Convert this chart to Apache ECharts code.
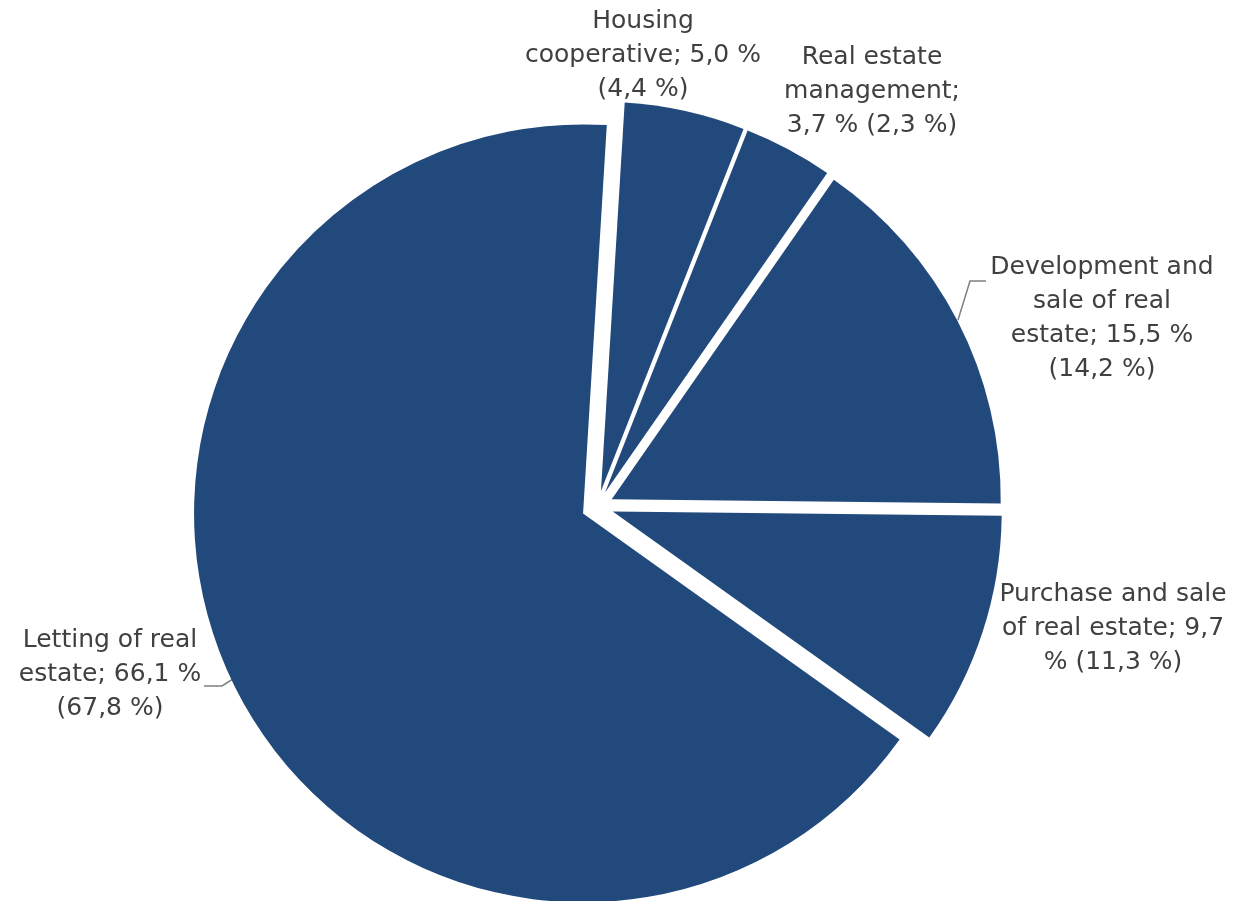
<!DOCTYPE html>
<html>
<head>
<meta charset="utf-8">
<script src="https://cdn.jsdelivr.net/npm/echarts@6/dist/echarts.min.js"></script>
<style>
html,body{margin:0;padding:0;background:#fff;}
#chart{width:1251px;height:901px;}
</style>
</head>
<body>
<div id="chart"></div>
<script>
// ---- Data ----
const categories = ['Housing cooperative', 'Real estate management', 'Development and sale of real estate', 'Purchase and sale of real estate', 'Letting of real estate'];
const shares = [5.0, 3.7, 15.5, 9.7, 66.1];
const previousShares = [4.4, 2.3, 14.2, 11.3, 67.8];

// ---- Label layout (positions / wrapping only) ----
const wrapChars = [18, 13, 15, 19, 15];
const labelPos = [
  {x: 643, y: 55},
  {x: 872, y: 91},
  {x: 1102, y: 318},
  {x: 1113, y: 628},
  {x: 110, y: 674}
];
const leaderLines = {
  2: [[958, 320], [970, 281], [986, 281]],
  4: [[233, 679], [222, 686], [204, 686]]
};

function fmt(v) { return v.toFixed(1).replace('.', ','); }
function wrap(text, max) {
  const words = text.split(' ');
  const lines = [];
  let cur = '';
  words.forEach(function (w) {
    if (cur === '') cur = w;
    else if ((cur + ' ' + w).length <= max) cur += ' ' + w;
    else { lines.push(cur); cur = w; }
  });
  if (cur) lines.push(cur);
  return lines.join('\n');
}
function labelText(i) {
  return wrap(categories[i] + '; ' + fmt(shares[i]) + ' % (' + fmt(previousShares[i]) + ' %)', wrapChars[i]);
}

const chart = echarts.init(document.getElementById('chart'), null, {renderer: 'canvas'});

const sliceData = categories.map(function (c, i) {
  return {name: c, value: shares[i], selected: true};
});
const labelData = categories.map(function (c, i) {
  return {
    name: c,
    value: shares[i],
    label: {formatter: labelText(i)},
    labelLine: {show: leaderLines[i] !== undefined}
  };
});

const common = {
  type: 'pie',
  center: [597.5, 506.5],
  radius: [0, 389],
  startAngle: 86.5,
  clockwise: true,
  emphasis: {disabled: true},
  silent: true
};

chart.setOption({
  animation: false,
  series: [
    Object.assign({}, common, {
      name: 'slices',
      selectedMode: 'multiple',
      selectedOffset: 16,
      itemStyle: {color: '#21497B', borderWidth: 0},
      label: {show: false},
      labelLine: {show: false},
      data: sliceData
    }),
    Object.assign({}, common, {
      name: 'labels',
      avoidLabelOverlap: false,
      itemStyle: {color: 'rgba(0,0,0,0)', borderWidth: 0},
      label: {
        show: true,
        position: 'outside',
        fontFamily: 'DejaVu Sans, sans-serif',
        fontSize: 25,
        lineHeight: 34,
        color: '#404040',
        align: 'center'
      },
      labelLine: {
        show: true,
        lineStyle: {color: '#808080', width: 1.5}
      },
      labelLayout: function (p) {
        const i = p.dataIndex;
        const o = {x: labelPos[i].x, y: labelPos[i].y, align: 'center', verticalAlign: 'middle'};
        if (leaderLines[i]) o.labelLinePoints = leaderLines[i];
        return o;
      },
      data: labelData
    })
  ]
});
</script>
</body>
</html>
